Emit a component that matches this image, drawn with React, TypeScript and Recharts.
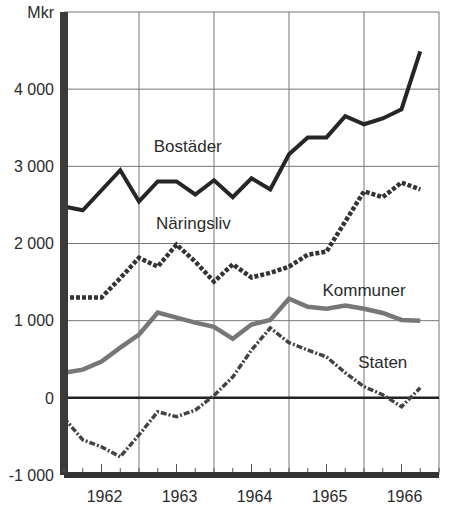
import {
    LineChart,
    Line,
    XAxis,
    YAxis,
    CartesianGrid,
    ReferenceLine,
    ReferenceDot,
} from 'recharts';

// quarterly values, 1962 Q1 .. 1966 Q4 (Mkr)
const bostader = [2480, 2430, 2690, 2950, 2545, 2805, 2805, 2635, 2820, 2600, 2845, 2700, 3155, 3375, 3375, 3650, 3545, 3620, 3740, 4490];
const naringsliv = [1300, 1300, 1300, 1550, 1815, 1700, 1985, 1765, 1505, 1730, 1560, 1620, 1700, 1855, 1895, 2285, 2675, 2600, 2790, 2700];
const kommuner = [325, 365, 470, 650, 820, 1105, 1040, 975, 920, 765, 950, 1010, 1285, 1180, 1155, 1195, 1155, 1100, 1010, 1000];
const staten = [-260, -545, -635, -765, -480, -180, -245, -160, 30, 270, 620, 905, 715, 620, 530, 325, 145, 40, -115, 130];

const years = ['1962', '1963', '1964', '1965', '1966'];
const quarterTicks = Array.from({ length: 21 }, (_, i) => i);
const yearBoundaries = [4, 8, 12, 16, 20];
const yTicks = [-1000, 0, 1000, 2000, 3000, 4000, 5000];

// where the series names sit (quarter index, value)
const seriesLabels = [
    { name: 'Bostäder', q: 6.6, v: 3260 },
    { name: 'Näringsliv', q: 6.9, v: 2260 },
    { name: 'Kommuner', q: 16.0, v: 1400 },
    { name: 'Staten', q: 17.0, v: 470 },
];

const data = bostader.map((b, i) => ({
    q: i,
    bostader: b,
    naringsliv: naringsliv[i],
    kommuner: kommuner[i],
    staten: staten[i],
}));

const FONT = '"Liberation Sans", Arial, sans-serif';
const INK = '#2b2b2b';

function formatY(v: number) {
    if (v === 5000) return 'Mkr';
    if (v === 0) return '0';
    const sign = v < 0 ? '-' : '';
    const abs = Math.abs(v);
    return `${sign}${Math.floor(abs / 1000)} ${String(abs % 1000).padStart(3, '0')}`;
}

function QuarterTick(props: any) {
    const { x, y, payload } = props;
    const q = payload.value as number;
    const isYear = q % 4 === 2;
    const yearIdx = (q - 2) / 4;
    return (
        <g>
            <line x1={x} x2={x} y1={y - 3} y2={y - (isYear ? 11 : 7)} stroke="#555" strokeWidth={1} />
            {isYear && years[yearIdx] && (
                <text x={x + 3} y={y + 27} textAnchor="middle" fontSize={16} fill={INK} fontFamily={FONT}>
                    {years[yearIdx]}
                </text>
            )}
        </g>
    );
}

export default function App() {
    return (
        <div style={{ position: 'absolute', left: 0, top: 0, background: '#fff' }}>
            <LineChart
                width={450}
                height={507}
                data={data}
                margin={{ top: 12, right: 11, bottom: 2, left: 0 }}
            >
                <CartesianGrid vertical={false} stroke="#777" strokeWidth={1} />
                <XAxis
                    type="number"
                    dataKey="q"
                    domain={[0, 20]}
                    ticks={quarterTicks}
                    interval={0}
                    height={30}
                    tickSize={0}
                    tickMargin={0}
                    tickLine={false}
                    axisLine={{ stroke: '#333', strokeWidth: 6 }}
                    tick={<QuarterTick />}
                />
                <YAxis
                    type="number"
                    domain={[-1000, 5000]}
                    ticks={yTicks}
                    width={64}
                    tickSize={0}
                    tickMargin={10}
                    tickLine={false}
                    axisLine={{ stroke: '#3a3a3a', strokeWidth: 8 }}
                    tickFormatter={formatY}
                    tick={{ fill: INK, fontSize: 16, fontFamily: FONT }}
                />
                {yearBoundaries.map((x) => (
                    <ReferenceLine key={x} x={x} stroke="#777" strokeWidth={1} />
                ))}
                <ReferenceLine y={0} stroke="#222" strokeWidth={2.5} />

                <Line
                    dataKey="bostader"
                    stroke="#262626"
                    strokeWidth={4}
                    dot={false}
                    type="linear"
                    isAnimationActive={false}
                />
                <Line
                    dataKey="naringsliv"
                    stroke="#333"
                    strokeWidth={4.5}
                    strokeDasharray="4 2"
                    dot={false}
                    type="linear"
                    isAnimationActive={false}
                />
                <Line
                    dataKey="kommuner"
                    stroke="#777"
                    strokeWidth={4.5}
                    dot={false}
                    type="linear"
                    isAnimationActive={false}
                />
                <Line
                    dataKey="staten"
                    stroke="#444"
                    strokeWidth={3.5}
                    strokeDasharray="6 2 2 2"
                    dot={false}
                    type="linear"
                    isAnimationActive={false}
                />

                {seriesLabels.map((l) => (
                    <ReferenceDot
                        key={l.name}
                        x={l.q}
                        y={l.v}
                        r={0}
                        fill="none"
                        stroke="none"
                        label={{
                            value: l.name,
                            position: 'center',
                            fill: INK,
                            fontSize: 17,
                            fontFamily: FONT,
                        }}
                    />
                ))}
            </LineChart>
        </div>
    );
}
